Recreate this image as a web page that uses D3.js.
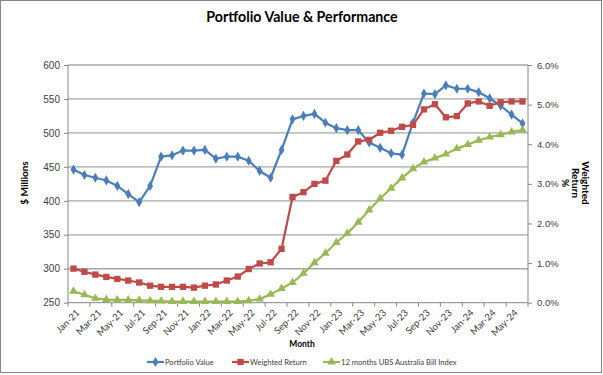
<!DOCTYPE html>
<html>
<head>
<meta charset="utf-8">
<script src="https://cdn.jsdelivr.net/npm/d3@7"></script>
<style>
  body { margin: 0; background: #fff; }
  svg { font-family: Lato, "Liberation Sans", sans-serif; }
  .tick text { fill: #404040; font-size: 10px; }
  .axis path, .axis line { stroke: #868686; }
</style>
</head>
<body>
<div id="chart"></div>
<script>
// months Jan-21 .. Jun-24
var months = ['Jan-21','Feb-21','Mar-21','Apr-21','May-21','Jun-21','Jul-21','Aug-21','Sep-21','Oct-21','Nov-21','Dec-21',
    'Jan-22','Feb-22','Mar-22','Apr-22','May-22','Jun-22','Jul-22','Aug-22','Sep-22','Oct-22','Nov-22','Dec-22',
    'Jan-23','Feb-23','Mar-23','Apr-23','May-23','Jun-23','Jul-23','Aug-23','Sep-23','Oct-23','Nov-23','Dec-23',
    'Jan-24','Feb-24','Mar-24','Apr-24','May-24','Jun-24'];

// $ millions
var portfolioValue = [446, 438, 434, 430, 422, 410, 398, 422, 465, 467, 474, 474,
    475, 462, 465, 465, 459, 444, 434, 475, 520, 525, 528, 515,
    507, 504, 504, 486, 478, 470, 468, 515, 558, 557, 570, 565,
    565, 560, 551, 540, 527, 514];

// percent
var weightedReturn = [0.86, 0.78, 0.71, 0.65, 0.60, 0.56, 0.51, 0.43, 0.40, 0.40, 0.40, 0.38,
    0.43, 0.46, 0.56, 0.66, 0.85, 0.99, 1.02, 1.36, 2.67, 2.79, 3.00, 3.08,
    3.58, 3.74, 4.07, 4.11, 4.29, 4.34, 4.44, 4.49, 4.88, 5.01, 4.68, 4.71,
    5.03, 5.08, 4.97, 5.06, 5.08, 5.08];

var billIndex = [0.29, 0.20, 0.11, 0.08, 0.07, 0.07, 0.06, 0.05, 0.04, 0.03, 0.03, 0.03,
    0.03, 0.03, 0.03, 0.03, 0.05, 0.09, 0.21, 0.36, 0.51, 0.74, 1.01, 1.25,
    1.52, 1.75, 2.03, 2.34, 2.63, 2.89, 3.15, 3.38, 3.55, 3.65, 3.75, 3.89,
    3.99, 4.10, 4.18, 4.24, 4.31, 4.36];

var leftTicks = [250, 300, 350, 400, 450, 500, 550, 600];
var rightTicks = [0, 1, 2, 3, 4, 5, 6];

var W = 603, H = 375;
var margin = { top: 65, left: 68, bottom: 72.3, right: 75 };
var width = W - margin.left - margin.right,
    height = H - margin.top - margin.bottom;

var blue = '#4A7EBB', red = '#BE4B48', green = '#98B954';

var root = d3.select('#chart').append('svg')
    .attr('width', W)
    .attr('height', H);

// chart border
root.append('rect')
    .attr('x', 0.5).attr('y', 0.5)
    .attr('width', W - 2).attr('height', H - 3)
    .attr('fill', '#fff')
    .attr('stroke', '#868686');

var svg = root.append('g')
    .attr('transform', 'translate(' + margin.left + ',' + margin.top + ')');

var x = d3.scaleBand().domain(months).range([0, width]);
var cx = d => x(d) + x.bandwidth() / 2;
var y = d3.scaleLinear().domain([250, 600]).range([height, 0]);
var y2 = d3.scaleLinear().domain([0, 6]).range([height, 0]);

// gridlines
svg.selectAll('.grid')
    .data(leftTicks.slice(1))
    .enter().append('line')
    .attr('class', 'grid')
    .attr('x1', 0).attr('x2', width)
    .attr('y1', d => y(d)).attr('y2', d => y(d))
    .attr('stroke', '#A6A6A6')
    .attr('stroke-width', 1.3);

// left axis
var yAxis = d3.axisLeft(y).tickValues(leftTicks).tickSize(4).tickPadding(4);
svg.append('g').attr('class', 'axis').call(yAxis)
    .call(g => g.select('.domain').attr('d', 'M0,0V' + height));

// right axis
var yAxis2 = d3.axisRight(y2).tickValues(rightTicks).tickSize(4).tickPadding(5)
    .tickFormat(d => d.toFixed(1) + '%');
svg.append('g').attr('class', 'axis')
    .attr('transform', 'translate(' + width + ',0)')
    .call(yAxis2)
    .call(g => g.select('.domain').attr('d', 'M0,0V' + height))
    .call(g => g.selectAll('text').style('font-size', '9.5px'));

// bottom axis: ticks at every second category boundary, labels at centres
var bottom = svg.append('g').attr('class', 'axis')
    .attr('transform', 'translate(0,' + height + ')');
bottom.append('line').attr('x1', 0).attr('x2', width).attr('stroke', '#868686');
var tickMonths = months.filter((d, i) => i % 2 === 0);
bottom.selectAll('.xt')
    .data(tickMonths)
    .enter().append('line')
    .attr('x1', d => x(d)).attr('x2', d => x(d))
    .attr('y1', 0).attr('y2', 4)
    .attr('stroke', '#868686');
bottom.append('line').attr('x1', width).attr('x2', width).attr('y1', 0).attr('y2', 4).attr('stroke', '#868686');
bottom.selectAll('.xl')
    .data(tickMonths)
    .enter().append('text')
    .attr('class', 'xl')
    .attr('transform', d => 'translate(' + (cx(d) + 2) + ',6) rotate(-45)')
    .attr('text-anchor', 'end')
    .attr('dy', '0.7em')
    .attr('fill', '#404040')
    .style('font-size', '9.5px')
    .text(d => d);

// series
function series(vals, scale, color) {
    var pts = months.map((m, i) => ({ m: m, v: vals[i] }));
    var line = d3.line().x(d => cx(d.m)).y(d => scale(d.v));
    svg.append('path')
        .datum(pts)
        .attr('fill', 'none')
        .attr('stroke', color)
        .attr('stroke-width', 2.2)
        .attr('stroke-linejoin', 'round')
        .attr('d', line);
    return pts;
}

var bPts = series(portfolioValue, y, blue);
var rPts = series(weightedReturn, y2, red);
var gPts = series(billIndex, y2, green);

var diamond = d3.symbol().type(d3.symbolDiamond).size(30);
var square = d3.symbol().type(d3.symbolSquare).size(40);
var triangle = d3.symbol().type(d3.symbolTriangle).size(32);

svg.selectAll('.bm').data(bPts).enter().append('path')
    .attr('d', diamond)
    .attr('transform', d => 'translate(' + cx(d.m) + ',' + y(d.v) + ')')
    .attr('fill', blue);
svg.selectAll('.rm').data(rPts).enter().append('path')
    .attr('d', square)
    .attr('transform', d => 'translate(' + cx(d.m) + ',' + y2(d.v) + ')')
    .attr('fill', red);
svg.selectAll('.gm').data(gPts).enter().append('path')
    .attr('d', triangle)
    .attr('transform', d => 'translate(' + cx(d.m) + ',' + y2(d.v) + ')')
    .attr('fill', green);

// titles
root.append('text')
    .attr('x', 302).attr('y', 22)
    .attr('text-anchor', 'middle')
    .style('font-size', '14.2px').style('font-weight', 'bold')
    .text('Portfolio Value & Performance');

root.append('text')
    .attr('x', 302).attr('y', 347)
    .attr('text-anchor', 'middle')
    .style('font-size', '8.5px').style('font-weight', 'bold')
    .text('Month');

root.append('text')
    .attr('transform', 'translate(28,183) rotate(-90)')
    .attr('text-anchor', 'middle')
    .style('font-size', '10px').style('font-weight', 'bold')
    .text('$ Millions');

var rt = root.append('text')
    .attr('transform', 'translate(582,183) rotate(90)')
    .attr('text-anchor', 'middle')
    .style('font-size', '10px').style('font-weight', 'bold');
['Weighted', 'Return', '%'].forEach((s, i) => {
    rt.append('tspan').attr('x', 0).attr('dy', i === 0 ? 0 : '1.0em').text(s);
});

// legend
var legendItems = [
    { name: 'Portfolio Value', color: blue, sym: diamond, x: 147 },
    { name: 'Weighted Return', color: red, sym: square, x: 232 },
    { name: '12 months UBS Australia Bill Index', color: green, sym: triangle, x: 323 }
];
var lg = root.selectAll('.lg').data(legendItems).enter().append('g')
    .attr('transform', d => 'translate(' + d.x + ',362)');
lg.append('line').attr('x1', 0).attr('x2', 17)
    .attr('stroke', d => d.color).attr('stroke-width', 2.2);
lg.append('path').attr('d', d => d.sym()).attr('transform', 'translate(8.5,0)')
    .attr('fill', d => d.color);
lg.append('text').attr('x', 18).attr('dy', '0.35em')
    .attr('fill', '#404040')
    .style('font-size', '7.6px')
    .text(d => d.name);
</script>
</body>
</html>
